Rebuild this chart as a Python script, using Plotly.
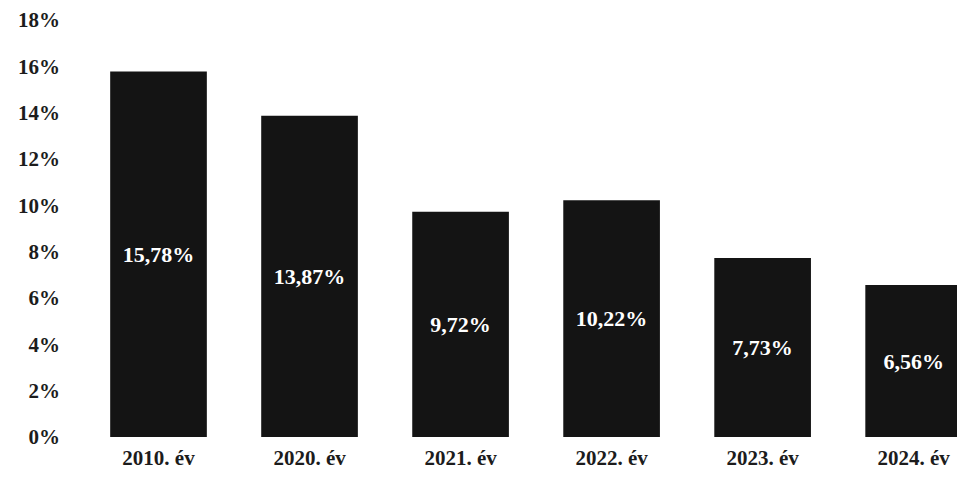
import plotly.graph_objects as go

categories = ["2010. év", "2020. év", "2021. év", "2022. év", "2023. év", "2024. év"]
values = [15.78, 13.87, 9.72, 10.22, 7.73, 6.56]
y_ticks = [0, 2, 4, 6, 8, 10, 12, 14, 16, 18]
y_tick_labels = [f"{v}%" for v in y_ticks]

font_family = "Liberation Serif, Times New Roman, serif"

fig = go.Figure(go.Bar(
    x=categories,
    y=values,
    marker=dict(color="#141414", line=dict(width=0)),
    texttemplate="%{y:.2f}%",
    textposition="inside",
    insidetextanchor="middle",
    textangle=0,
    textfont=dict(family=font_family, size=22, color="white", weight="bold"),
    width=0.64,
))

fig.update_layout(
    width=957, height=476,
    margin=dict(l=75, r=0, t=3, b=47),
    paper_bgcolor="white", plot_bgcolor="white",
    separators=",.",
    showlegend=False,
    xaxis=dict(
        range=[-0.5, 5.34],
        showgrid=False, showline=False, zeroline=False, ticks="",
        ticklabelstandoff=6,
        tickfont=dict(family=font_family, size=21, color="#1c1c1c", weight="bold"),
    ),
    yaxis=dict(
        range=[0, 18.3],
        tickvals=y_ticks, ticktext=y_tick_labels,
        showgrid=False, showline=False, zeroline=False, ticks="",
        ticklabelstandoff=22,
        ticklabeloverflow="allow",
        tickfont=dict(family=font_family, size=21, color="#1c1c1c", weight="bold"),
    ),
)

fig.write_html("out.html")
